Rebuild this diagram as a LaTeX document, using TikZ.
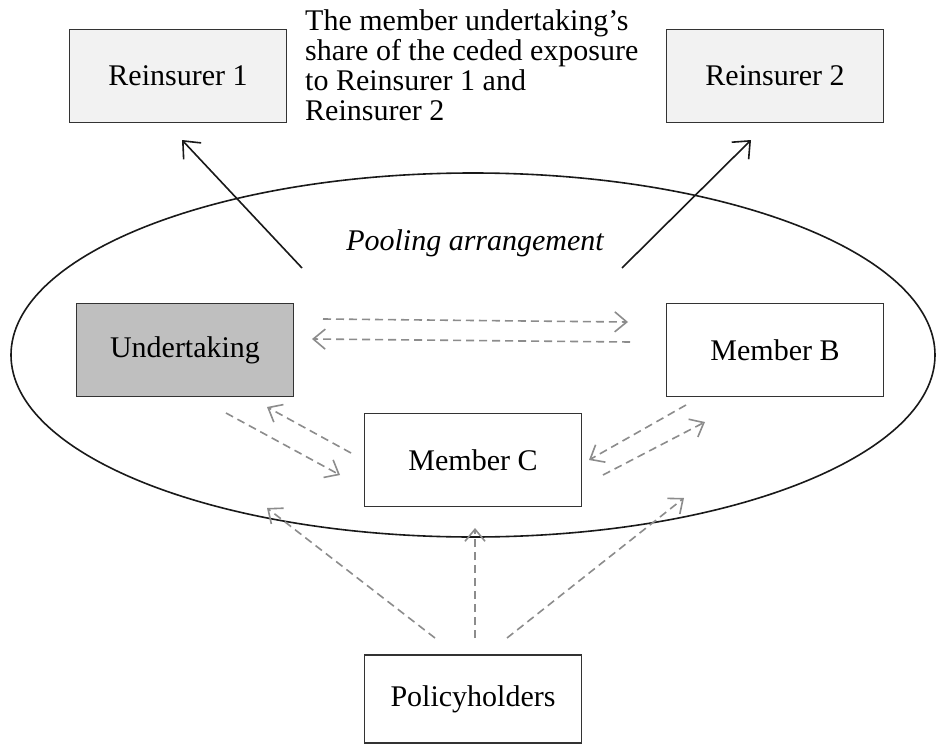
\documentclass[tikz,border=0pt]{standalone}
\usepackage{fontspec}
\setmainfont{Liberation Serif}
\usetikzlibrary{arrows.meta}
\begin{document}
\begin{tikzpicture}[x=1pt,y=-1pt,
 box/.style={draw=black!80, line width=1.5pt, minimum width=217pt, minimum height=93pt, inner sep=0pt, font=\fontsize{30}{32}\selectfont},
 solidarr/.style={draw=black!90, line width=1.6pt, -{Straight Barb[length=14pt,width=24pt,line width=1.6pt]}},
 dasharr/.style={draw=black!45, line width=1.6pt, dash pattern=on 8pt off 5pt, -{Straight Barb[length=12pt,width=20pt,line width=1.6pt]}}]
\useasboundingbox[fill=white] (0,0) rectangle (938,744);
% pool
\draw[line width=1.6pt, black!90] (473,355) ellipse [x radius=462, y radius=182];
\node[font=\fontsize{30}{32}\selectfont\itshape] (poollabel) at (475,243) {Pooling arrangement};
% boxes
\node[box, fill=black!5] (rein1) at (178,76) {Reinsurer 1};
\node[box, fill=black!5] (rein2) at (775,76) {Reinsurer 2};
\node[box, fill=black!25] (und) at (185,350) {Undertaking};
\node[box, fill=white] (memB) at (775,350) {Member B};
\node[box, fill=white] (memC) at (473,460) {Member C};
\node[box, fill=white, minimum height=88pt] (pol) at (473,699) {Policyholders};
\node[anchor=north west, align=left, inner sep=0pt, font=\fontsize{30}{30}\selectfont] (note) at (305,9) {The member undertaking’s\\share of the ceded exposure\\to Reinsurer 1 and\\Reinsurer 2};
% solid arrows
\coordinate (s1) at (302,268);
\coordinate (t1) at (182,140);
\coordinate (s2) at (622,268);
\coordinate (t2) at (751,140);
\draw[solidarr] (s1) -- (t1);
\draw[solidarr] (s2) -- (t2);
% dashed: undertaking <-> member B
\coordinate (ub1) at (323,319);
\coordinate (ub2) at (628,322);
\coordinate (bu1) at (630,342);
\coordinate (bu2) at (312,339);
\draw[dasharr] (ub1) -- (ub2);
\draw[dasharr] (bu1) -- (bu2);
% dashed: undertaking <-> member C
\coordinate (uc1) at (226,413);
\coordinate (uc2) at (340,475);
\coordinate (cu1) at (351,453);
\coordinate (cu2) at (267,407);
\draw[dasharr] (uc1) -- (uc2);
\draw[dasharr] (cu1) -- (cu2);
% dashed: member C <-> member B
\coordinate (bc1) at (686,405);
\coordinate (bc2) at (589,460);
\coordinate (cb1) at (603,475);
\coordinate (cb2) at (705,422);
\draw[dasharr] (bc1) -- (bc2);
\draw[dasharr] (cb1) -- (cb2);
% dashed: policyholders
\coordinate (p1) at (435,638);
\coordinate (p1t) at (267,508);
\coordinate (p2) at (475,638);
\coordinate (p2t) at (475,528);
\coordinate (p3) at (507,638);
\coordinate (p3t) at (684,498);
\draw[dasharr] (p1) -- (p1t);
\draw[dasharr] (p2) -- (p2t);
\draw[dasharr] (p3) -- (p3t);
\end{tikzpicture}
\end{document}
